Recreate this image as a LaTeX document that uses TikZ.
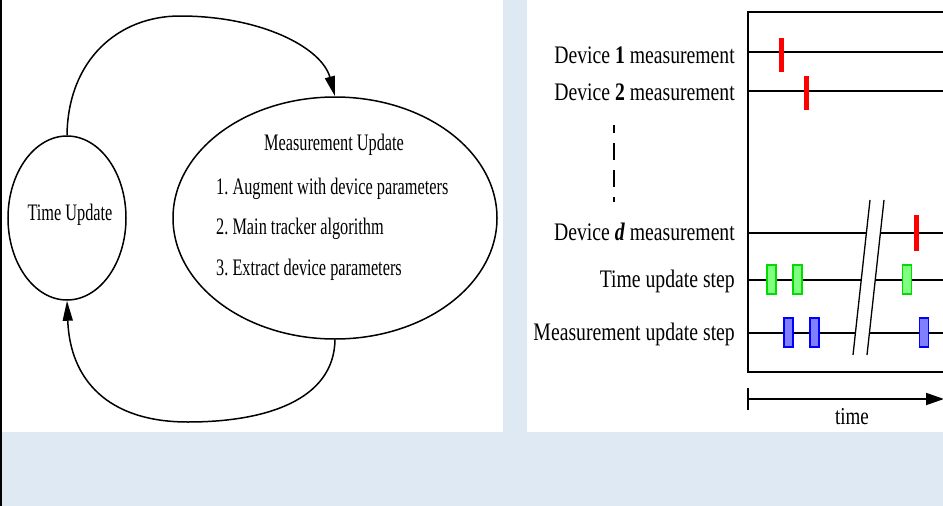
\documentclass[tikz,border=0pt]{standalone}
\usepackage{fontspec}
\setmainfont{Liberation Serif}
\usetikzlibrary{shapes.geometric,arrows.meta}
\definecolor{bgblue}{RGB}{222,233,244}
\definecolor{mkred}{RGB}{255,0,0}
\definecolor{mkgreenfill}{RGB}{128,255,128}
\definecolor{mkgreen}{RGB}{0,220,0}
\definecolor{mkbluefill}{RGB}{128,128,255}
\definecolor{mkblue}{RGB}{0,0,255}
\newcommand{\lstretch}[1]{\scalebox{1}[1.45]{#1}}
\newcommand{\rstretch}[1]{\scalebox{1}[1.28]{#1}}
\frenchspacing
\begin{document}
\begin{tikzpicture}[x=1pt,y=-1pt,
  stateell/.style={ellipse,draw,line width=1.5pt,inner sep=0pt},
  ltext/.style={font=\fontsize{16.3}{18}\selectfont,inner sep=0pt},
  rtext/.style={font=\fontsize{19.7}{22}\selectfont,inner sep=0pt,anchor=base east},
  loopline/.style={line width=1.5pt,-{Triangle[length=20pt,width=10pt]}},
  framel/.style={line width=2.6pt},
  rowline/.style={line width=1.8pt},
  breakline/.style={line width=1.3pt},
  redtick/.style={fill=mkred},
  greenbox/.style={fill=mkgreenfill,draw=mkgreen,line width=1.2pt},
  bluebox/.style={fill=mkbluefill,draw=mkblue,line width=1.2pt}
]
\useasboundingbox (0,0) rectangle (943,506);
% background and panels
\fill[bgblue] (0,0) rectangle (943,506);
\fill[white] (0,0) rectangle (503,432);
\fill[white] (527,0) rectangle (943,432);
\draw[line width=1.5pt] (0.75,0) -- (0.75,506);

% ---------- left panel ----------
\node[stateell,minimum width=118pt,minimum height=164pt] (tu) at (67,218) {};
\node[ltext,anchor=base] (tutext) at (70,220) {\lstretch{Time Update}};
\node[stateell,minimum width=324pt,minimum height=242pt] (mu) at (335,218) {};
\node[ltext,anchor=base] (mutitle) at (334,150.5) {\lstretch{Measurement Update}};
\node[ltext,anchor=base west] (mu1) at (216,194) {\lstretch{1. Augment with device parameters}};
\node[ltext,anchor=base west] (mu2) at (216,234) {\lstretch{2. Main tracker algorithm}};
\node[ltext,anchor=base west] (mu3) at (216,275) {\lstretch{3. Extract device parameters}};

\draw[loopline] (tu.north) .. controls (68,60) and (118,16) .. (180,16)
  .. controls (262,16) and (322,48) .. (mu.north);
\draw[loopline] (mu.south) .. controls (334,400) and (266,422) .. (188,422)
  .. controls (108,422) and (70,380) .. (tu.south);

% ---------- right panel ----------
\node[rtext] (l1) at (735,63) {\rstretch{Device \textbf{1} measurement}};
\node[rtext] (l2) at (735,100) {\rstretch{Device \textbf{2} measurement}};
\node[rtext] (ld) at (735,240.5) {\rstretch{Device \textbf{\textit{d}} measurement}};
\node[rtext] (lt) at (735,287) {\rstretch{Time update step}};
\node[rtext] (lm) at (735,340) {\rstretch{Measurement update step}};

\draw[line width=2pt,dash pattern=on 17pt off 10pt,dash phase=9pt] (614,125) -- (614,202);

% frame
\draw[framel] (950,12) -- (748,12) -- (748,372) -- (950,372);

% break lines
\coordinate (b1s) at (870,200);
\coordinate (b1e) at (853,355);
\coordinate (b2s) at (884,200);
\coordinate (b2e) at (867,355);
\draw[breakline] (b1s) -- (b1e);
\draw[breakline] (b2s) -- (b2e);

% rows
\draw[rowline] (748,52) -- (950,52);
\draw[rowline] (748,91) -- (950,91);
\draw[rowline] (748,233) -- (866.4,233);
\draw[rowline] (880.4,233) -- (950,233);
\draw[rowline] (748,280) -- (861.2,280);
\draw[rowline] (875.2,280) -- (950,280);
\draw[rowline] (748,333) -- (855.4,333);
\draw[rowline] (869.4,333) -- (950,333);

% markers
\fill[redtick] (778.5,38) rectangle (783.5,72);
\fill[redtick] (803.5,76) rectangle (808.5,110);
\fill[redtick] (913.5,215) rectangle (918.5,251);
\draw[greenbox] (767,265) rectangle (776,294);
\draw[greenbox] (793,265) rectangle (802,294);
\draw[greenbox] (902.5,265) rectangle (911.5,294);
\draw[bluebox] (784,318) rectangle (793,347);
\draw[bluebox] (810,318) rectangle (819,347);
\draw[bluebox] (919.5,318) rectangle (928.5,347);

% time axis
\coordinate (ts) at (748,399);
\coordinate (te) at (944,399);
\draw[line width=1.8pt] (748,388) -- (748,410);
\draw[line width=1.8pt,-{Triangle[length=18pt,width=12pt]}] (ts) -- (te);
\node[font=\fontsize{19}{21}\selectfont,inner sep=0pt,anchor=base] (timelbl) at (852,424) {\rstretch{time}};
\end{tikzpicture}
\end{document}
